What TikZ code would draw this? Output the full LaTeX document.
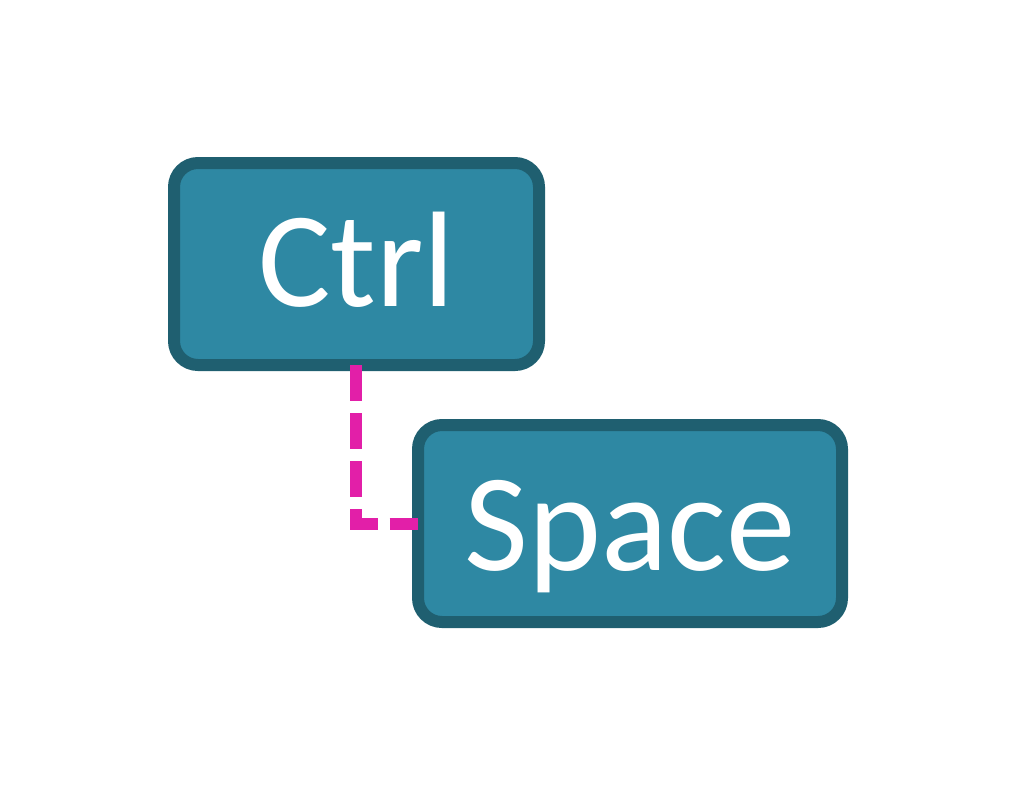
\documentclass[tikz,border=0pt]{standalone}
\usepackage{fontspec}
\setmainfont{Carlito}
\definecolor{keyfill}{HTML}{2E88A3}
\definecolor{keyline}{HTML}{1F5F70}
\definecolor{linkpink}{HTML}{E21FA8}
\tikzset{
  keybox/.style={draw=keyline,fill=keyfill,line width=12pt,rounded corners=24pt,inner sep=0pt,outer sep=0pt,text=white,font=\fontsize{136pt}{136pt}\selectfont,text depth=0pt},
  link/.style={draw=linkpink,line width=12pt,dash pattern=on 36pt off 12pt}
}
\begin{document}
\begin{tikzpicture}[x=1pt,y=-1pt]
\useasboundingbox (0,0) rectangle (1014,804);
\node[keybox,minimum width=365pt,minimum height=202pt,text height=84pt] (ctrl) at (356.5,264) {Ctrl};
\node[keybox,minimum width=424pt,minimum height=197pt,text height=93pt,font=\fontsize{139pt}{139pt}\selectfont] (space) at (630,523.5) {Space};
\draw[link] ([xshift=-0.5pt]ctrl.south) |- (space.west);
\end{tikzpicture}
\end{document}
